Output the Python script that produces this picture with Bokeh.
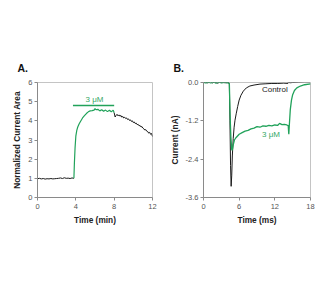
from bokeh.plotting import figure
from bokeh.layouts import row
from bokeh.models import Range1d, FixedTicker, Label
from bokeh.embed import file_html
from bokeh.resources import INLINE

# Panel A: normalized current area over time (min)
a_base_t = [0.0, 0.2, 0.4, 0.6, 0.8, 1.0, 1.2, 1.4, 1.6, 1.8, 2.0, 2.2, 2.4, 2.6, 2.8, 3.0, 3.2, 3.4, 3.6, 3.8]
a_base_v = [0.98, 1.00, 0.97, 0.99, 0.96, 0.98, 0.97, 0.99, 0.97, 0.98, 0.99, 1.00, 1.02, 0.99, 1.03, 1.00, 1.01, 0.99, 1.02, 1.00]

a_drug_t = [3.80, 3.85, 3.92, 4.00, 4.10, 4.20, 4.35, 4.50, 4.70, 4.90, 5.10, 5.30, 5.50, 5.70, 5.90,
            6.00, 6.10, 6.30, 6.50, 6.70, 6.90, 7.10, 7.30, 7.50, 7.70, 7.90, 8.00]
a_drug_v = [1.00, 1.80, 2.60, 3.20, 3.50, 3.68, 3.85, 3.98, 4.15, 4.27, 4.38, 4.47, 4.52, 4.53, 4.56,
            4.64, 4.58, 4.60, 4.52, 4.58, 4.50, 4.56, 4.48, 4.55, 4.47, 4.56, 4.42]

a_wash_t = [8.0, 8.1, 8.2, 8.3, 8.4, 8.5, 8.6, 8.7, 8.8, 8.9, 9.0, 9.1, 9.2, 9.3, 9.4, 9.5, 9.6, 9.7, 9.8, 9.9,
            10.0, 10.1, 10.2, 10.3, 10.4, 10.5, 10.6, 10.7, 10.8, 10.9, 11.0, 11.1, 11.2, 11.3, 11.4, 11.5,
            11.6, 11.7, 11.8, 11.9, 12.0]
a_wash_v = [4.42, 4.20, 4.28, 4.34, 4.26, 4.31, 4.24, 4.28, 4.19, 4.23, 4.15, 4.19, 4.12, 4.15, 4.07, 4.10,
            4.02, 4.05, 3.97, 4.00, 3.91, 3.94, 3.86, 3.88, 3.80, 3.82, 3.74, 3.76, 3.68, 3.70, 3.62, 3.58,
            3.52, 3.54, 3.46, 3.44, 3.36, 3.40, 3.30, 3.34, 3.18]

a_bar_t = [3.7, 8.0]
a_bar_v = 4.8
a_xticks = [0, 4, 8, 12]
a_yticks = [0, 1, 2, 3, 4, 5, 6]

# Panel B: current traces (nA) over time (ms)
b_ctrl_t = [0.0, 0.3, 0.6, 0.9, 1.2, 1.5, 1.8, 2.1, 2.4, 2.7, 3.0, 3.3, 3.6, 3.9, 4.2, 4.35, 4.45, 4.55,
            4.65, 4.75, 4.85, 5.0, 5.15, 5.3, 5.5, 5.75, 6.0, 6.3, 6.7, 7.2, 7.8, 8.5, 9.5, 10.5, 11.5,
            12.5, 13.5, 14.2, 14.3, 14.5, 15.0, 16.0, 17.0, 18.0]
b_ctrl_v = [0.00, 0.01, -0.01, 0.00, 0.02, -0.01, 0.01, 0.00, -0.02, 0.01, 0.00, 0.01, -0.01, 0.00, 0.01,
            -0.05, -1.20, -2.60, -3.25, -2.90, -2.30, -1.75, -1.40, -1.18, -0.98, -0.75, -0.55, -0.40,
            -0.27, -0.17, -0.11, -0.08, -0.05, -0.04, -0.03, -0.03, -0.02, -0.03, 0.03, -0.01, 0.00,
            0.01, 0.02, 0.02]

b_drug_t = [0.0, 0.3, 0.6, 0.9, 1.2, 1.5, 1.8, 2.1, 2.4, 2.7, 3.0, 3.3, 3.6, 3.9, 4.2, 4.35, 4.45, 4.6,
            4.75, 4.85, 5.0, 5.2, 5.5, 6.0, 6.5, 7.0, 7.5, 8.0, 8.5, 9.0, 9.5, 10.0, 10.5, 11.0, 11.5,
            12.0, 12.5, 12.8, 13.2, 13.6, 14.0, 14.25, 14.35, 14.45, 14.6, 14.8, 15.0, 15.3, 15.7, 16.3,
            17.0, 18.0]
b_drug_v = [0.01, -0.01, 0.00, 0.01, -0.01, 0.00, 0.01, -0.02, 0.00, 0.01, -0.01, 0.00, 0.01, -0.01,
            0.00, -0.05, -0.90, -1.70, -2.10, -2.12, -1.95, -1.80, -1.72, -1.62, -1.57, -1.52, -1.50,
            -1.45, -1.43, -1.38, -1.40, -1.36, -1.37, -1.34, -1.36, -1.33, -1.34, -1.28, -1.32, -1.31,
            -1.33, -1.35, -1.62, -1.30, -0.85, -0.55, -0.38, -0.25, -0.17, -0.11, -0.07, -0.04]

b_xticks = [0, 6, 12, 18]
b_yticks = [0.0, -1.2, -2.4, -3.6]
b_ylabels = ["0.0", "-1.2", "-2.4", "-3.6"]

GREEN = "#21a25a"
TEXT_GREEN = "#35a866"
FONT = "Liberation Sans"


def style(p, panel_letter, title_offset):
    p.outline_line_color = "#c4c4c4"
    p.grid.visible = False
    p.background_fill_color = "white"
    p.border_fill_color = "white"
    p.title.text = panel_letter
    p.title.align = "left"
    p.title.offset = title_offset
    p.title.standoff = 17
    p.title.text_font = FONT
    p.title.text_font_size = "10.5px"
    p.title.text_font_style = "bold"
    p.title.text_color = "#111111"
    for ax in (p.xaxis[0], p.yaxis[0]):
        ax.axis_line_color = "#8a8a8a"
        ax.major_tick_line_color = "#8a8a8a"
        ax.major_tick_out = 3
        ax.major_tick_in = 0
        ax.minor_tick_line_color = None
        ax.major_label_text_font = FONT
        ax.major_label_text_font_size = "7.5px"
        ax.major_label_text_color = "#555555"
        ax.axis_label_text_font = FONT
        ax.axis_label_text_font_size = "8.3px"
        ax.axis_label_text_font_style = "bold"
        ax.axis_label_text_color = "#222222"
    p.xaxis[0].major_label_standoff = 3
    p.yaxis[0].major_label_standoff = 2
    p.xaxis[0].axis_label_standoff = 3
    p.yaxis[0].axis_label_standoff = 3


pa = figure(width=166, height=284, output_backend="svg", toolbar_location=None,
            x_range=Range1d(0, 12), y_range=Range1d(0, 6),
            min_border_left=37, min_border_right=14, min_border_top=79, min_border_bottom=87)
style(pa, "A.", -20)
pa.xaxis.ticker = FixedTicker(ticks=a_xticks)
pa.yaxis.ticker = FixedTicker(ticks=a_yticks)
pa.xaxis.axis_label = "Time (min)"
pa.yaxis.axis_label = "Normalized Current Area"
pa.line(a_base_t, a_base_v, line_color="#1a1a1a", line_width=1)
pa.line(a_wash_t, a_wash_v, line_color="#1a1a1a", line_width=1)
pa.line(a_drug_t, a_drug_v, line_color=GREEN, line_width=1.2)
pa.line(a_bar_t, [a_bar_v, a_bar_v], line_color=GREEN, line_width=1.6)
pa.add_layout(Label(x=sum(a_bar_t) / 2 + 0.1, y=a_bar_v, y_offset=2, text="3 \u03bcM",
                    text_align="center", text_baseline="bottom", text_font=FONT,
                    text_font_size="8px", text_color=TEXT_GREEN))

pb = figure(width=166, height=284, output_backend="svg", toolbar_location=None,
            x_range=Range1d(0, 18), y_range=Range1d(-3.6, 0.0),
            min_border_left=33, min_border_right=22, min_border_top=82, min_border_bottom=87)
style(pb, "B.", -30)
pb.xaxis.ticker = FixedTicker(ticks=b_xticks)
pb.yaxis.ticker = FixedTicker(ticks=b_yticks)
pb.yaxis.major_label_overrides = {t: s for t, s in zip(b_yticks, b_ylabels)}
pb.xaxis.axis_label = "Time (ms)"
pb.yaxis.axis_label = "Current (nA)"
pb.line(b_ctrl_t, b_ctrl_v, line_color="#1a1a1a", line_width=1)
pb.line(b_drug_t, b_drug_v, line_color=GREEN, line_width=1.3)
pb.add_layout(Label(x=12.0, y=-0.23, text="Control", text_align="center", text_baseline="middle",
                    text_font=FONT, text_font_size="8px", text_color="#222222"))
pb.add_layout(Label(x=11.35, y=-1.64, text="3 \u03bcM", text_align="center", text_baseline="middle",
                    text_font=FONT, text_font_size="8px", text_color=TEXT_GREEN))

layout = row(pa, pb)
open("out.html", "w").write(file_html(layout, INLINE))
